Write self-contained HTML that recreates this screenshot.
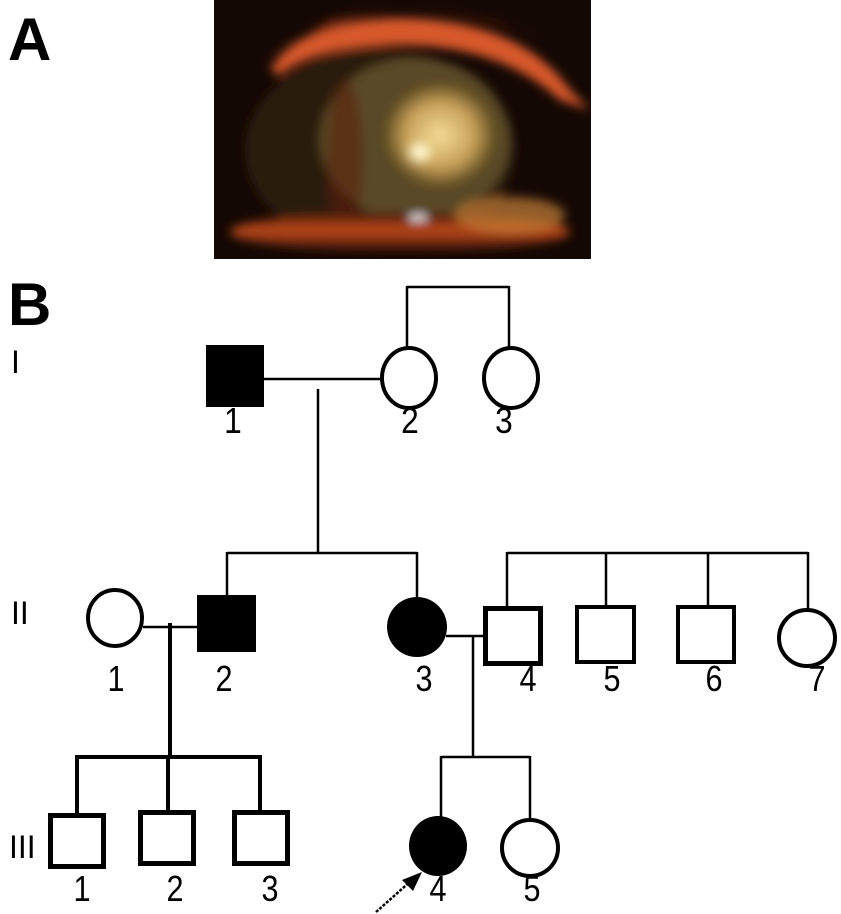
<!DOCTYPE html>
<html><head><meta charset="utf-8"><style>
html,body{margin:0;padding:0;background:#fff;width:841px;height:914px;overflow:hidden}
svg{display:block}
text{font-family:"Liberation Sans",Arial,sans-serif;fill:#000}
.n{font-size:36px}
</style></head><body>
<svg width="841" height="914" viewBox="0 0 841 914" xmlns="http://www.w3.org/2000/svg">
<defs>
<radialGradient id="lens" cx="0.5" cy="0.5" r="0.5">
<stop offset="0" stop-color="#f4dc98"/><stop offset="0.55" stop-color="#c8a058"/><stop offset="0.85" stop-color="#6a5628"/><stop offset="1" stop-color="#4a3818" stop-opacity="0"/>
</radialGradient>
<radialGradient id="glow" cx="0.5" cy="0.5" r="0.5">
<stop offset="0" stop-color="#ffffff"/><stop offset="0.4" stop-color="#fff6c0"/><stop offset="1" stop-color="#f0d080" stop-opacity="0"/>
</radialGradient>
<linearGradient id="low" x1="0" y1="0" x2="0" y2="1">
<stop offset="0" stop-color="#3a1505"/><stop offset="0.45" stop-color="#c04a1a"/><stop offset="1" stop-color="#2a0c04"/>
</linearGradient>
<filter id="bl"><feGaussianBlur stdDeviation="5"/></filter>
<clipPath id="pc"><rect x="214" y="0" width="377" height="259"/></clipPath>
</defs>
<rect x="214" y="0" width="377" height="259" fill="#140804"/>
<g clip-path="url(#pc)" filter="url(#bl)">
<path d="M270 70 Q300 20 400 18 Q520 20 570 90 L590 110 L560 100 Q500 45 400 45 Q310 48 280 75 Z" fill="#d8582a"/>
<path d="M265 60 Q330 10 420 12 Q500 15 540 40 L520 30 Q420 0 330 20 Z" fill="#8a2a0c"/>
<ellipse cx="380" cy="150" rx="135" ry="100" fill="#2a1a0a"/>
<ellipse cx="415" cy="140" rx="95" ry="82" fill="#5a4a26"/>
<ellipse cx="440" cy="135" rx="62" ry="58" fill="url(#lens)"/>
<ellipse cx="420" cy="152" rx="16" ry="14" fill="url(#glow)"/>
<ellipse cx="345" cy="160" rx="18" ry="80" fill="#5a2008" opacity="0.6"/>
<ellipse cx="400" cy="232" rx="170" ry="20" fill="url(#low)"/>
<ellipse cx="510" cy="215" rx="55" ry="18" fill="#c88038" opacity="0.7"/>
<rect x="410" y="215" width="16" height="5" fill="#fff"/>
</g>
<text x="8" y="60" style="font-size:60px;font-weight:bold">A</text>
<text x="8" y="325" style="font-size:60px;font-weight:bold">B</text>
<text x="11" y="373" style="font-size:32px">I</text>
<text x="11" y="624" style="font-size:32px">II</text>
<text x="9" y="858" style="font-size:32px">III</text>

<g stroke="#000" fill="none">
<line x1="407" y1="287" x2="509" y2="287" stroke-width="2.5"/>
<line x1="407" y1="286" x2="407" y2="348" stroke-width="2.5"/>
<line x1="509" y1="286" x2="509" y2="348" stroke-width="2.5"/>
<line x1="262" y1="379" x2="381" y2="379" stroke-width="2.5"/>
<line x1="318" y1="389" x2="318" y2="553" stroke-width="2.5"/>
<line x1="227" y1="553" x2="417" y2="553" stroke-width="2.5"/>
<line x1="227" y1="552" x2="227" y2="596" stroke-width="2.5"/>
<line x1="417" y1="552" x2="417" y2="598" stroke-width="2.5"/>
<line x1="507" y1="553" x2="808" y2="553" stroke-width="2.5"/>
<line x1="507" y1="552" x2="507" y2="607" stroke-width="2.5"/>
<line x1="606" y1="552" x2="606" y2="606" stroke-width="2.5"/>
<line x1="708" y1="552" x2="708" y2="606" stroke-width="2.5"/>
<line x1="808" y1="552" x2="808" y2="610" stroke-width="2.5"/>
<line x1="143" y1="627" x2="198" y2="627" stroke-width="2.5"/>
<line x1="170" y1="623" x2="170" y2="758" stroke-width="4"/>
<line x1="77" y1="757" x2="260" y2="757" stroke-width="4"/>
<line x1="77" y1="755" x2="77" y2="815" stroke-width="4"/>
<line x1="168" y1="755" x2="168" y2="812" stroke-width="4"/>
<line x1="260" y1="755" x2="260" y2="812" stroke-width="4"/>
<line x1="446" y1="636" x2="486" y2="636" stroke-width="2.5"/>
<line x1="473" y1="636" x2="473" y2="757" stroke-width="2.5"/>
<line x1="441" y1="757" x2="530" y2="757" stroke-width="2.5"/>
<line x1="441" y1="756" x2="441" y2="818" stroke-width="2.5"/>
<line x1="530" y1="756" x2="530" y2="820" stroke-width="2.5"/>
</g>

<rect x="206" y="345" width="58" height="62" fill="#000"/>
<ellipse cx="409" cy="378" rx="27" ry="30" fill="#fff" stroke="#000" stroke-width="4"/>
<ellipse cx="511" cy="378" rx="27" ry="30" fill="#fff" stroke="#000" stroke-width="4"/>

<ellipse cx="115" cy="618" rx="27" ry="28" fill="#fff" stroke="#000" stroke-width="4"/>
<rect x="197" y="595" width="59" height="57" fill="#000"/>
<ellipse cx="417" cy="627" rx="30" ry="30" fill="#000"/>
<rect x="485.5" y="608.5" width="55" height="55" fill="#fff" stroke="#000" stroke-width="5"/>
<rect x="577" y="607" width="57" height="55" fill="#fff" stroke="#000" stroke-width="4"/>
<rect x="678" y="607" width="56" height="55" fill="#fff" stroke="#000" stroke-width="4"/>
<ellipse cx="807" cy="638" rx="28" ry="28" fill="#fff" stroke="#000" stroke-width="4"/>

<rect x="50.5" y="815.5" width="53" height="51" fill="#fff" stroke="#000" stroke-width="5"/>
<rect x="140.5" y="812.5" width="53" height="51" fill="#fff" stroke="#000" stroke-width="5"/>
<rect x="234.5" y="812.5" width="53" height="51" fill="#fff" stroke="#000" stroke-width="5"/>
<ellipse cx="438" cy="846" rx="29" ry="30" fill="#000"/>
<ellipse cx="530" cy="848" rx="28" ry="28" fill="#fff" stroke="#000" stroke-width="4"/>

<line x1="376" y1="912" x2="412" y2="880" stroke="#000" stroke-width="2.5" stroke-dasharray="3,1.5"/>
<polygon points="422,872 402,880 413,891" fill="#000"/>

<g class="n" text-anchor="middle">
<text x="233" y="433" transform="translate(233 0) scale(0.88 1) translate(-233 0)">1</text>
<text x="410" y="433" transform="translate(410 0) scale(0.88 1) translate(-410 0)">2</text>
<text x="504" y="433" transform="translate(504 0) scale(0.88 1) translate(-504 0)">3</text>
<text x="116" y="691" transform="translate(116 0) scale(0.85 1) translate(-116 0)">1</text>
<text x="224" y="691" transform="translate(224 0) scale(0.85 1) translate(-224 0)">2</text>
<text x="424" y="691" transform="translate(424 0) scale(0.85 1) translate(-424 0)">3</text>
<text x="528" y="691" transform="translate(528 0) scale(0.85 1) translate(-528 0)">4</text>
<text x="612" y="691" transform="translate(612 0) scale(0.85 1) translate(-612 0)">5</text>
<text x="714" y="691" transform="translate(714 0) scale(0.85 1) translate(-714 0)">6</text>
<text x="817" y="691" transform="translate(817 0) scale(0.85 1) translate(-817 0)">7</text>
<text x="82" y="901" transform="translate(82 0) scale(0.85 1) translate(-82 0)">1</text>
<text x="175" y="901" transform="translate(175 0) scale(0.85 1) translate(-175 0)">2</text>
<text x="270" y="901" transform="translate(270 0) scale(0.85 1) translate(-270 0)">3</text>
<text x="438" y="901" transform="translate(438 0) scale(0.85 1) translate(-438 0)">4</text>
<text x="532" y="901" transform="translate(532 0) scale(0.85 1) translate(-532 0)">5</text>
</g>
</svg>
</body></html>
